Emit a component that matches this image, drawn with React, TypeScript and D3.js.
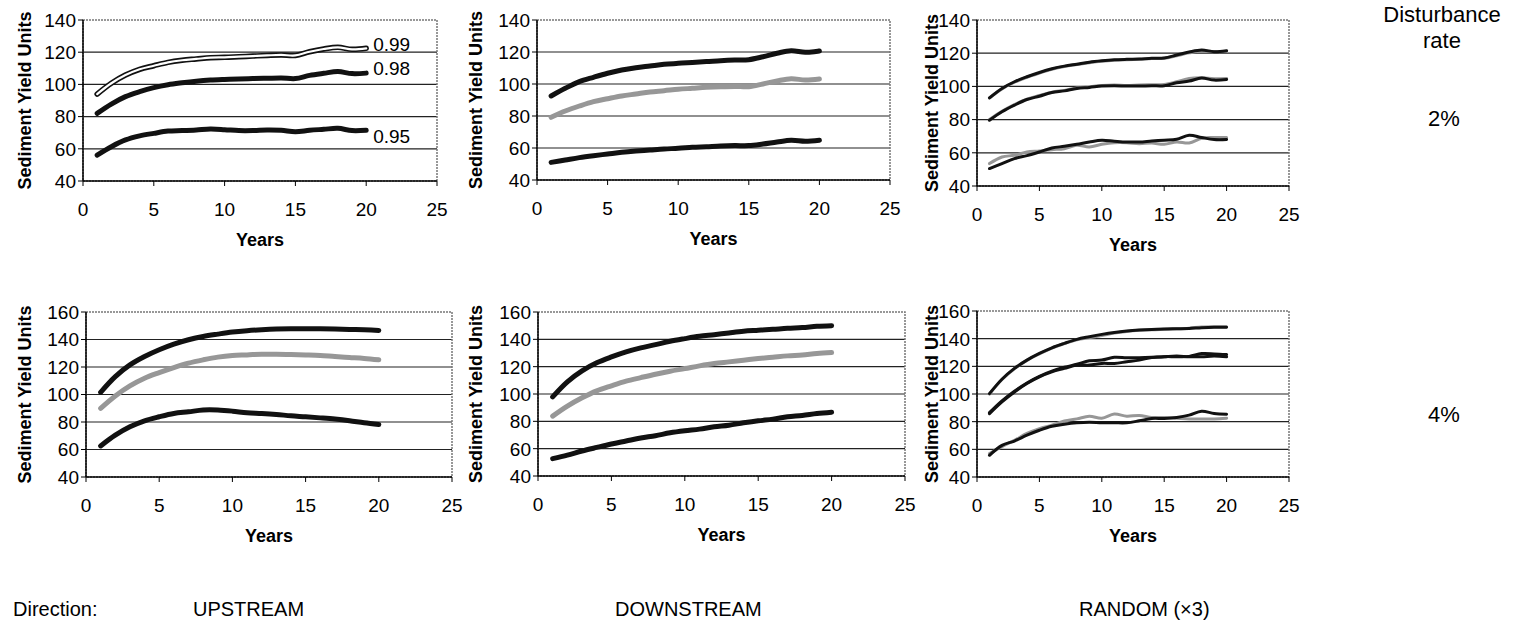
import * as d3 from 'd3';

const years = [1, 2, 3, 4, 5, 6, 7, 8, 9, 10, 11, 12, 13, 14, 15, 16, 17, 18, 19, 20];
const xTicks = [0, 5, 10, 15, 20, 25];
const yTicks2 = [40, 60, 80, 100, 120, 140];
const yTicks4 = [40, 60, 80, 100, 120, 140, 160];

// 2% disturbance
const up2_099 = [94, 100.7, 105.8, 109.4, 111.6, 113.7, 115, 115.8, 116.6, 116.8, 117.2, 117.6, 118, 118.3, 118, 120.3, 122, 123, 121.8, 122.4];
const up2_098 = [82, 87.8, 92.4, 95.5, 98, 99.8, 101, 102, 102.7, 103.1, 103.4, 103.6, 103.8, 104, 103.6, 105.6, 106.9, 108, 106.7, 107];
const up2_095 = [56.1, 61.3, 65.5, 68, 69.6, 71, 71.3, 71.7, 72.3, 71.9, 71.3, 71.3, 71.7, 71.5, 70.6, 71.5, 72.1, 72.7, 71.3, 71.5];

const down2_top = [92.5, 97.3, 101.5, 104.2, 106.7, 108.75, 110.2, 111.25, 112.3, 112.9, 113.5, 114, 114.6, 115, 115.2, 117, 119.2, 120.8, 119.8, 120.6];
const down2_mid = [79.2, 83.1, 86.25, 89, 90.8, 92.5, 93.75, 95, 95.8, 96.7, 97.3, 97.9, 98.3, 98.5, 98.3, 100, 101.9, 103.3, 102.5, 103.1];
const down2_low = [51, 52.5, 54, 55.2, 56.25, 57.3, 58.1, 58.75, 59.4, 59.8, 60.4, 60.8, 61.25, 61.5, 61.5, 62.5, 63.75, 64.8, 64.2, 64.8];

const rand2_topA = [93.1, 98.8, 102.8, 105.8, 108.4, 110.6, 112.2, 113.4, 114.6, 115.4, 116, 116.3, 116.5, 116.9, 117.1, 118.9, 120.7, 121.9, 120.9, 121.5];
const rand2_topB = [93, 98.5, 102.5, 105.5, 108, 110.3, 112, 113.2, 114.3, 115.2, 115.8, 116.1, 116.4, 116.8, 117, 118.5, 120.2, 121.4, 121, 121.2];
const rand2_midA = [79.6, 84.7, 88.7, 92.1, 94.1, 96.3, 97.3, 98.8, 99.4, 100.2, 100.4, 100.2, 100.2, 100.4, 100.4, 102.2, 103.2, 105, 103.8, 104.2];
const rand2_midB = [80, 85, 89, 92.3, 94.5, 96.5, 97.6, 99, 99.8, 100.5, 100.8, 100.5, 100.8, 101, 101.2, 102.8, 104.8, 105.2, 104.6, 104.8];
const rand2_lowA = [50.5, 53.5, 56.5, 58.3, 60.5, 62.9, 63.9, 65.1, 66.5, 67.6, 67, 66.5, 66.5, 67.1, 67.6, 68.2, 70.6, 69.2, 68, 68];
const rand2_lowB = [53.5, 57.5, 58.5, 60.5, 61.1, 61.9, 62.5, 64.5, 63.5, 65.1, 66.1, 66.1, 65.5, 65.9, 65.1, 66.5, 65.9, 68.8, 69.2, 69.2];

// 4% disturbance
const up4_top = [101.6, 113, 121.5, 127.6, 132.5, 136.6, 139.8, 142.2, 143.9, 145.4, 146.4, 147.1, 147.6, 147.8, 147.8, 147.8, 147.6, 147.3, 147.1, 146.6];
const up4_mid = [89.9, 98.9, 106.2, 111.8, 115.9, 119.6, 122.8, 125.2, 127.2, 128.4, 128.8, 129.3, 129.3, 129.1, 128.8, 128.4, 127.6, 126.9, 126.2, 125.2];
const up4_low = [62.6, 70.4, 76.5, 80.9, 83.8, 86.2, 87.4, 88.7, 88.7, 87.9, 86.7, 86.2, 85.5, 84.5, 83.8, 83, 82.1, 80.9, 79.4, 78.2];

const down4_top = [97.9, 108.9, 116.9, 122.8, 127.1, 130.8, 133.7, 136.1, 138.6, 140.5, 142.2, 143.4, 144.7, 145.9, 146.6, 147.3, 148.1, 148.6, 149.5, 150];
const down4_mid = [83.8, 91.1, 97.2, 102.3, 106, 109.4, 112, 114.5, 116.7, 118.6, 120.6, 122.3, 123.5, 124.7, 125.9, 126.9, 127.9, 128.6, 129.6, 130.3];
const down4_low = [52.7, 55.3, 58.3, 60.9, 63.4, 65.6, 67.8, 69.5, 71.6, 73.1, 74.3, 76, 77.2, 78.9, 80.4, 81.6, 83.3, 84.3, 85.7, 86.7];

const rand4_topA = [100.3, 110.7, 118.5, 124.5, 129.3, 133.4, 136.6, 139.5, 141.4, 143.1, 144.5, 145.5, 146.2, 146.7, 147, 147.2, 147.4, 147.9, 148.2, 148.2];
const rand4_topB = [100, 110.5, 118.3, 124.3, 129, 133.2, 136.4, 139.2, 140.8, 142.3, 144, 145.2, 146, 146.5, 146.8, 147.1, 147.6, 148.5, 148.7, 148.6];
const rand4_midA = [85.8, 94.3, 101.5, 107.6, 112.4, 116, 118.5, 120.9, 120.9, 122.1, 122.1, 123.3, 124.5, 126.4, 126.9, 127.4, 126.9, 126.9, 127.4, 126.9];
const rand4_midB = [86.5, 95, 102, 108, 112.8, 116.5, 119.3, 121.5, 124, 124.5, 126.5, 126.2, 126.2, 126.5, 127, 127, 127.2, 129.2, 129, 128.5];
const rand4_lowA = [55.7, 62.9, 66, 70.2, 73.8, 76.7, 78.2, 79.2, 79.6, 79.2, 79.2, 79.2, 80.6, 82.3, 82.3, 83, 84.7, 87.6, 85.9, 85.4];
const rand4_lowB = [57, 62, 66.5, 71.5, 75, 77.5, 80.5, 82, 84, 82.5, 85.5, 84, 84.5, 83, 83, 82.5, 82, 82, 82, 82.5];

const retentionLabels = ['0.99', '0.98', '0.95'];
const directions = ['UPSTREAM', 'DOWNSTREAM', 'RANDOM (×3)'];
const rates = ['2%', '4%'];

type Style = 'black' | 'gray' | 'double' | 'thinBlack' | 'thinGray';
type Series = { values: number[]; style: Style; label?: string };
type PanelCfg = {
  left: number; right: number; top: number; bottom: number;
  yDomain: [number, number]; yTicks: number[]; titleX: number;
  series: Series[];
};

const panels: PanelCfg[] = [
  {
    left: 83, right: 437, top: 20, bottom: 181, yDomain: [40, 140], yTicks: yTicks2, titleX: 31,
    series: [
      { values: up2_099, style: 'double', label: retentionLabels[0] },
      { values: up2_098, style: 'black', label: retentionLabels[1] },
      { values: up2_095, style: 'black', label: retentionLabels[2] },
    ],
  },
  {
    left: 537, right: 890, top: 20, bottom: 180, yDomain: [40, 140], yTicks: yTicks2, titleX: 482,
    series: [
      { values: down2_top, style: 'black' },
      { values: down2_mid, style: 'gray' },
      { values: down2_low, style: 'black' },
    ],
  },
  {
    left: 977, right: 1289, top: 20, bottom: 186, yDomain: [40, 140], yTicks: yTicks2, titleX: 938,
    series: [
      { values: rand2_topB, style: 'thinGray' },
      { values: rand2_topA, style: 'thinBlack' },
      { values: rand2_midB, style: 'thinGray' },
      { values: rand2_midA, style: 'thinBlack' },
      { values: rand2_lowB, style: 'thinGray' },
      { values: rand2_lowA, style: 'thinBlack' },
    ],
  },
  {
    left: 86, right: 452, top: 312, bottom: 477, yDomain: [40, 160], yTicks: yTicks4, titleX: 31,
    series: [
      { values: up4_top, style: 'black' },
      { values: up4_mid, style: 'gray' },
      { values: up4_low, style: 'black' },
    ],
  },
  {
    left: 538, right: 905, top: 312, bottom: 476, yDomain: [40, 160], yTicks: yTicks4, titleX: 482,
    series: [
      { values: down4_top, style: 'black' },
      { values: down4_mid, style: 'gray' },
      { values: down4_low, style: 'black' },
    ],
  },
  {
    left: 977, right: 1289, top: 311, bottom: 477, yDomain: [40, 160], yTicks: yTicks4, titleX: 938,
    series: [
      { values: rand4_topB, style: 'thinGray' },
      { values: rand4_topA, style: 'thinBlack' },
      { values: rand4_midA, style: 'thinBlack' },
      { values: rand4_midB, style: 'thinBlack' },
      { values: rand4_lowB, style: 'thinGray' },
      { values: rand4_lowA, style: 'thinBlack' },
    ],
  },
];

const FONT = "'Liberation Sans', Arial, sans-serif";
const labelNudge = [2.5, 3, -4]; // keeps the end labels off the lines

function Panel({ cfg }: { cfg: PanelCfg }) {
  const x = d3.scaleLinear().domain([0, 25]).range([cfg.left, cfg.right]);
  const y = d3.scaleLinear().domain(cfg.yDomain).range([cfg.bottom, cfg.top]);
  const line = d3
    .line<number>()
    .x((_, i) => x(years[i]))
    .y((d) => y(d))
    .curve(d3.curveCatmullRom.alpha(0.5));

  const midY = (cfg.top + cfg.bottom) / 2;

  return (
    <g>
      {/* grid */}
      {cfg.yTicks.slice(1, -1).map((t) => (
        <line key={t} x1={cfg.left} x2={cfg.right} y1={y(t)} y2={y(t)} stroke="#222" strokeWidth={1.2} />
      ))}
      {/* frame */}
      <rect
        x={cfg.left}
        y={cfg.top}
        width={cfg.right - cfg.left}
        height={cfg.bottom - cfg.top}
        fill="none"
        stroke="#777"
        strokeWidth={1.5}
        strokeDasharray="2 1"
      />
      {/* series */}
      {cfg.series.map((s, i) => {
        const d = line(s.values) || '';
        if (s.style === 'double')
          return (
            <g key={i}>
              <path d={d} fill="none" stroke="#111" strokeWidth={5.5} strokeLinecap="round" />
              <path d={d} fill="none" stroke="#fff" strokeWidth={2.2} strokeLinecap="round" />
            </g>
          );
        const stroke = s.style === 'black' || s.style === 'thinBlack' ? '#111' : '#979797';
        const w = s.style === 'black' || s.style === 'gray' ? 5 : 3;
        return <path key={i} d={d} fill="none" stroke={stroke} strokeWidth={w} strokeLinecap="round" />;
      })}
      {cfg.series.map((s, i) =>
        s.label ? (
          <text
            key={'l' + i}
            x={x(years[years.length - 1]) + 7}
            y={y(s.values[s.values.length - 1] + labelNudge[i])}
            dy="0.35em"
            fontSize={19}
            fontFamily={FONT}
          >
            {s.label}
          </text>
        ) : null
      )}
      {/* axes */}
      <line x1={cfg.left} x2={cfg.left} y1={cfg.top} y2={cfg.bottom} stroke="#000" strokeWidth={1.5} />
      <line x1={cfg.left} x2={cfg.right} y1={cfg.bottom} y2={cfg.bottom} stroke="#000" strokeWidth={1.5} />
      {cfg.yTicks.map((t) => (
        <g key={'y' + t}>
          <line x1={cfg.left - 5} x2={cfg.left} y1={y(t)} y2={y(t)} stroke="#000" />
          <text x={cfg.left - 7} y={y(t)} dy="0.36em" textAnchor="end" fontSize={19} fontFamily={FONT}>
            {t}
          </text>
        </g>
      ))}
      {xTicks.map((t) => (
        <g key={'x' + t}>
          <line x1={x(t)} x2={x(t)} y1={cfg.bottom} y2={cfg.bottom + 5} stroke="#000" />
          <text x={x(t)} y={cfg.bottom + 35} textAnchor="middle" fontSize={19} fontFamily={FONT}>
            {t}
          </text>
        </g>
      ))}
      <text
        x={(cfg.left + cfg.right) / 2}
        y={cfg.bottom + 65}
        textAnchor="middle"
        fontSize={18}
        fontWeight="bold"
        fontFamily={FONT}
      >
        Years
      </text>
      <text
        transform={`translate(${cfg.titleX},${midY}) rotate(-90)`}
        textAnchor="middle"
        fontSize={18}
        fontWeight="bold"
        fontFamily={FONT}
      >
        Sediment Yield Units
      </text>
    </g>
  );
}

export default function App() {
  return (
    <svg
      width={1516}
      height={627}
      style={{ position: 'absolute', left: 0, top: 0, background: '#fff' }}
    >
      {panels.map((p, i) => (
        <Panel key={i} cfg={p} />
      ))}
      <text x={1442} y={22} textAnchor="middle" fontSize={22} fontFamily={FONT}>
        Disturbance
      </text>
      <text x={1442} y={48} textAnchor="middle" fontSize={22} fontFamily={FONT}>
        rate
      </text>
      <text x={1444} y={126} textAnchor="middle" fontSize={22} fontFamily={FONT}>
        {rates[0]}
      </text>
      <text x={1444} y={422} textAnchor="middle" fontSize={22} fontFamily={FONT}>
        {rates[1]}
      </text>
      <text x={13} y={616} fontSize={20} fontFamily={FONT}>
        Direction:
      </text>
      <text x={193} y={616} fontSize={20} fontFamily={FONT}>
        {directions[0]}
      </text>
      <text x={615} y={616} fontSize={20} fontFamily={FONT}>
        {directions[1]}
      </text>
      <text x={1079} y={616} fontSize={20} fontFamily={FONT}>
        {directions[2]}
      </text>
    </svg>
  );
}
